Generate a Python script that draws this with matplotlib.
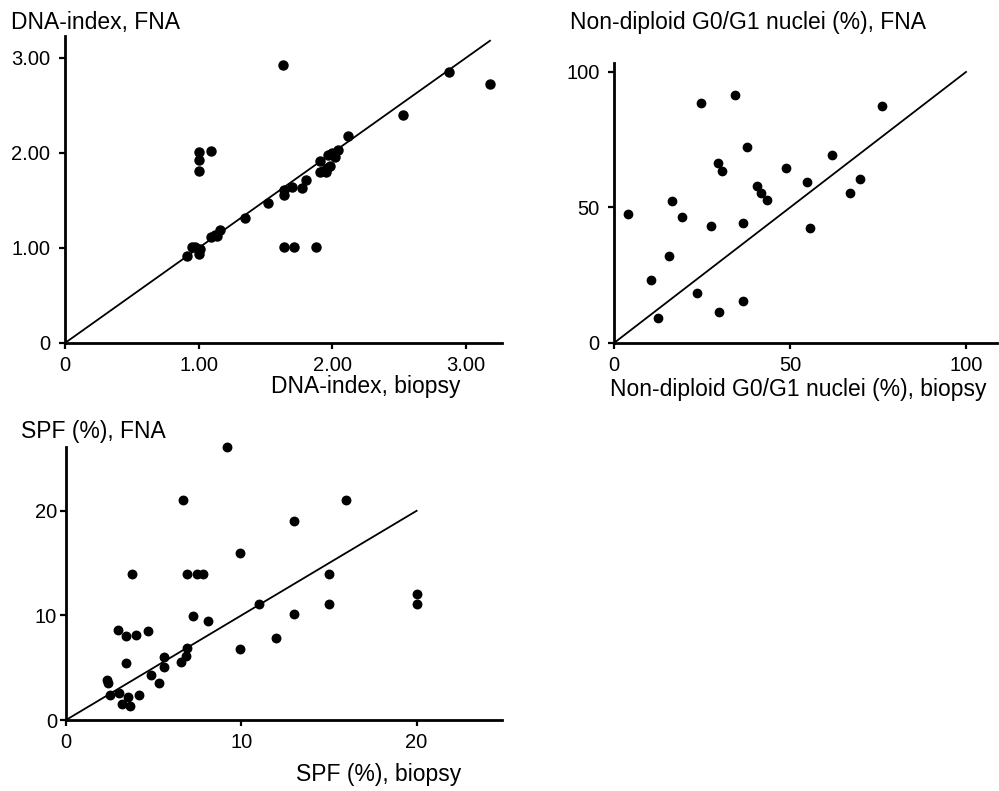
import matplotlib
matplotlib.use("Agg")
import matplotlib.pyplot as plt

plt.rcParams['font.family'] = ['Liberation Sans', 'DejaVu Sans']

# DNA-index: biopsy (x) vs FNA (y)
dna_biopsy = [1.63, 2.87, 3.18, 2.53, 2.12,
              1.00, 1.00, 1.00, 1.09,
              1.97, 2.00, 2.04, 2.02, 1.91, 1.96, 1.91, 1.95, 1.93, 1.98,
              1.80, 1.77, 1.70, 1.64, 1.64, 1.52, 1.35,
              1.16, 1.12, 1.09, 1.14,
              0.97, 0.95, 1.00, 1.01, 0.91,
              1.64, 1.71, 1.88]
dna_fna = [2.93, 2.85, 2.73, 2.40, 2.18,
           2.01, 1.93, 1.81, 2.02,
           1.98, 2.00, 2.03, 1.96, 1.91, 1.84, 1.80, 1.80, 1.81, 1.86,
           1.72, 1.63, 1.64, 1.61, 1.56, 1.47, 1.32,
           1.19, 1.14, 1.12, 1.13,
           1.01, 1.01, 0.94, 0.99, 0.92,
           1.01, 1.01, 1.01]
dna_ticks = [0, 1, 2, 3]
dna_ticklabels = ['0', '1.00', '2.00', '3.00']
dna_line = [0, 3.18]

# Non-diploid G0/G1 nuclei (%)
nd_biopsy = [3.9, 24.6, 34.5, 76.0, 37.7, 61.8, 29.6, 30.6, 48.8, 54.9,
             69.9, 40.5, 41.7, 66.9, 43.6, 16.5, 19.4, 27.5, 36.6, 55.8,
             15.5, 10.4, 23.7, 36.7, 29.7, 12.6]
nd_fna = [47.7, 88.6, 91.4, 87.5, 72.3, 69.5, 66.5, 63.5, 64.5, 59.4,
          60.4, 57.8, 55.4, 55.4, 52.6, 52.4, 46.5, 43.3, 44.4, 42.3,
          32.2, 23.4, 18.5, 15.4, 11.4, 9.3]
nd_ticks = [0, 50, 100]
nd_line = [0, 100]

# SPF (%)
spf_biopsy = [9.2, 6.67, 16.0, 13.0, 9.9, 3.75, 6.88, 7.45, 7.8, 15.0,
              20.0, 20.0, 15.0, 11.03, 7.23, 13.0, 8.12, 2.99, 3.4, 3.99,
              4.7, 12.0, 9.93, 6.92, 6.84, 6.54, 5.61, 5.61, 3.4, 4.83,
              5.32, 2.32, 2.38, 2.51, 3.04, 3.56, 4.16, 3.18, 3.65]
spf_fna = [26.1, 21.05, 21.05, 19.0, 16.0, 14.0, 14.0, 14.0, 14.0, 14.0,
           12.06, 11.07, 11.07, 11.05, 9.96, 10.1, 9.49, 8.6, 8.02, 8.12,
           8.53, 7.86, 6.78, 6.9, 6.11, 5.57, 6.05, 5.09, 5.41, 4.30,
           3.5, 3.82, 3.56, 2.39, 2.55, 2.23, 2.39, 1.5, 1.37]
spf_ticks = [0, 10, 20]
spf_line = [0, 20]

W, H = 999, 791
fig = plt.figure(figsize=(W / 100, H / 100), dpi=100)


def px_axes(left, top, right, bottom):
    return fig.add_axes([left / W, 1 - bottom / H, (right - left) / W, (bottom - top) / H])


def style(ax, ypad):
    for s in ['top', 'right']:
        ax.spines[s].set_visible(False)
    for s in ['left', 'bottom']:
        ax.spines[s].set_linewidth(2.0)
    ax.tick_params(axis='both', direction='out', length=4.5, width=1.6, labelsize=14.5)
    ax.tick_params(axis='x', pad=5)
    ax.tick_params(axis='y', pad=ypad)


def label(text, x, y):
    fig.text(x / W, 1 - y / H, text, fontsize=16.5, ha='left', va='baseline')


# Panel 1: DNA-index
ax1 = px_axes(65, 36, 502, 343)
ax1.plot(dna_line, dna_line, color='black', lw=1.3)
ax1.plot(dna_biopsy, dna_fna, 'o', color='black', ms=6.5, clip_on=False)
ax1.set_xlim(0, 3.27)
ax1.set_ylim(0, 3.23)
ax1.set_xticks(dna_ticks)
ax1.set_xticklabels(dna_ticklabels)
ax1.set_yticks(dna_ticks)
ax1.set_yticklabels(dna_ticklabels)
style(ax1, 6)
label('DNA-index, FNA', 11, 29)
label('DNA-index, biopsy', 271, 393)

# Panel 2: Non-diploid G0/G1 nuclei
ax2 = px_axes(614, 63, 997, 343)
ax2.plot(nd_line, nd_line, color='black', lw=1.3)
ax2.plot(nd_biopsy, nd_fna, 'o', color='black', ms=6.0, clip_on=False)
ax2.set_xlim(0, 108.8)
ax2.set_ylim(0, 103.3)
ax2.set_xticks(nd_ticks)
ax2.set_yticks(nd_ticks)
style(ax2, 6)
label('Non-diploid G0/G1 nuclei (%), FNA', 570, 29)
label('Non-diploid G0/G1 nuclei (%), biopsy', 610, 396)

# Panel 3: SPF
ax3 = px_axes(66, 447, 502, 720)
ax3.plot(spf_line, spf_line, color='black', lw=1.3)
ax3.plot(spf_biopsy, spf_fna, 'o', color='black', ms=6.1, clip_on=False)
ax3.set_xlim(0, 24.87)
ax3.set_ylim(0, 26.1)
ax3.set_xticks(spf_ticks)
ax3.set_yticks(spf_ticks)
style(ax3, 2)
label('SPF (%), FNA', 21, 438)
label('SPF (%), biopsy', 296, 781)

fig.savefig('out.png', dpi=100)
